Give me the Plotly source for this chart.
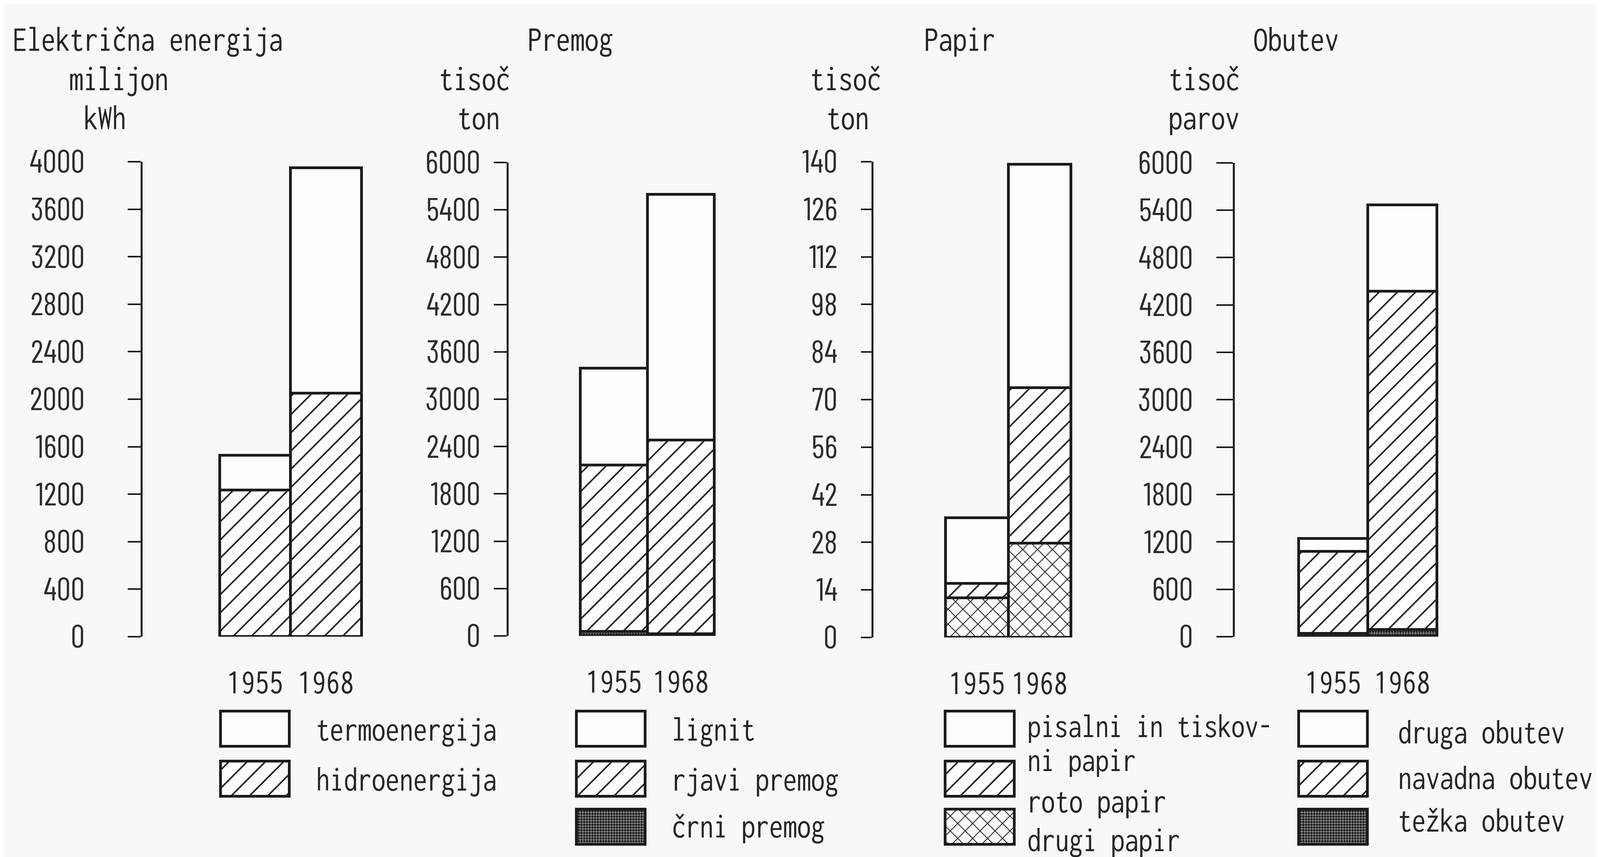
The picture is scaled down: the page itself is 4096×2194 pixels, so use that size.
import plotly.graph_objects as go

# ---------------- data ----------------
years = ["1955", "1968"]

el_hidro = [1236, 2051]
el_termo = [291, 1897]

pr_crni = [55, 30]
pr_rjavi = [2110, 2455]
pr_lignit = [1227, 3112]

pa_drugi = [11.6, 27.7]
pa_roto = [4.3, 45.8]
pa_pisalni = [19.3, 65.8]

ob_tezka = [43, 90]
ob_navadna = [1037, 4283]
ob_druga = [166, 1093]

el_ticks = [0, 400, 800, 1200, 1600, 2000, 2400, 2800, 3200, 3600, 4000]
pr_ticks = [0, 600, 1200, 1800, 2400, 3000, 3600, 4200, 4800, 5400, 6000]
pa_ticks = [0, 14, 28, 42, 56, 70, 84, 98, 112, 126, 140]
ob_ticks = [0, 600, 1200, 1800, 2400, 3000, 3600, 4200, 4800, 5400, 6000]

# ---------------- geometry / style ----------------
W, H = 4096, 2194
S = 0.956                    # output px per reference px
BODY = 8                     # default page margin of the html body


def fx(x):
    return (x * S - BODY) / W


def fy(y):
    return 1 - (y * S - BODY) / H


NUM_FONT = "Barlow Condensed, Roboto Condensed, Liberation Sans, sans-serif"
TXT_FONT = "Inconsolata Condensed, Barlow Condensed, Liberation Sans, sans-serif"
NUM_FS = 81
TITLE_FS = 91
TXT_FS = 89
YEAR_FS = 90
INK = "#1b1b1b"
TXT = "#262626"
BG = "#f8f8f8"
FILL = "#fdfdfd"
OUT_W = 7

PAT = {
    "blank": dict(shape=""),
    "hatch": dict(shape="/", size=33, solidity=0.12, fgcolor=INK, bgcolor=FILL, fillmode="replace"),
    "cross": dict(shape="x", size=27, solidity=0.15, fgcolor=INK, bgcolor=FILL, fillmode="replace"),
    "stipple": dict(shape=".", size=7, solidity=0.55, fgcolor="#1e1e1e", bgcolor="#8e8e8e", fillmode="replace"),
}

panels = [
    dict(axis_x=382, bar_l=588, bar_r=968, top=433, bot=1705, rng=4000, ticks=el_ticks,
         standoff=94, ticklen=33,
         segs=[(el_hidro, "hatch"), (el_termo, "blank")]),
    dict(axis_x=1362, bar_l=1554, bar_r=1913, top=435, bot=1703, rng=6000, ticks=pr_ticks,
         standoff=18, ticklen=33,
         segs=[(pr_crni, "stipple"), (pr_rjavi, "hatch"), (pr_lignit, "blank")]),
    dict(axis_x=2339, bar_l=2532, bar_r=2868, top=433, bot=1707, rng=140, ticks=pa_ticks,
         standoff=44, ticklen=27,
         segs=[(pa_drugi, "cross"), (pa_roto, "hatch"), (pa_pisalni, "blank")]),
    dict(axis_x=3307, bar_l=3477, bar_r=3848, top=436, bot=1705, rng=6000, ticks=ob_ticks,
         standoff=44, ticklen=42,
         segs=[(ob_tezka, "stipple"), (ob_navadna, "hatch"), (ob_druga, "blank")]),
]

fig = go.Figure()
layout = dict(
    width=W, height=H, margin=dict(l=0, r=0, t=0, b=0, pad=0, autoexpand=False),
    paper_bgcolor=BG, plot_bgcolor="rgba(0,0,0,0)",
    barmode="stack", showlegend=False,
    font=dict(family=NUM_FONT, size=NUM_FS, color=TXT),
)

for i, p in enumerate(panels, start=1):
    xa, ya = f"x{i}", f"y{i}"
    barw = (p["bar_r"] - p["bar_l"]) / 2.0
    gap = (p["bar_l"] - p["axis_x"]) / barw
    ext = 0.04
    for vals, pat in p["segs"]:
        fig.add_trace(go.Bar(
            x=[0, 1], y=vals, width=1, xaxis=xa, yaxis=ya,
            marker=dict(color=FILL, line=dict(color=INK, width=OUT_W), pattern=PAT[pat]),
            hoverinfo="skip",
        ))
    layout[f"xaxis{i}"] = dict(
        domain=[fx(p["axis_x"]), fx(p["bar_r"] + ext * barw)],
        range=[-0.5 - gap, 1.5 + ext], anchor=ya, automargin=False,
        tickvals=[0, 1], ticktext=years, ticks="", showline=False, tickangle=0,
        showgrid=False, zeroline=False, fixedrange=True,
        tickfont=dict(family=TXT_FONT, size=YEAR_FS, color=TXT), ticklabelstandoff=54,
    )
    layout[f"yaxis{i}"] = dict(
        domain=[fy(p["bot"]), fy(p["top"])], range=[0, p["rng"]], anchor=xa, automargin=False,
        tickvals=p["ticks"], ticks="outside", ticklen=p["ticklen"], tickwidth=4,
        tickcolor=INK, showline=True, linewidth=5, linecolor=INK,
        showgrid=False, zeroline=False, fixedrange=True,
        tickfont=dict(family=NUM_FONT, size=NUM_FS, color="#2c2c2c"),
        ticklabelstandoff=p["standoff"],
    )

# ---------------- legend swatches (bars on an overlay axis in reference px) ----------------
col_x = [590, 1543, 2531, 3477]
row_y = [1951, 2085, 2214]
box_w, box_h = 185, 94
legend_rows = [
    ("blank", 0, [0, 1, 2, 3]),
    ("hatch", 1, [0, 1, 2, 3]),
    ("stipple", 2, [1, 3]),
    ("cross", 2, [2]),
]
for pat, r, cols in legend_rows:
    fig.add_trace(go.Bar(
        orientation="h", y=[row_y[r]] * len(cols), x=[box_w] * len(cols),
        base=[col_x[c] for c in cols], width=box_h, xaxis="x5", yaxis="y5",
        marker=dict(color=FILL, line=dict(color=INK, width=OUT_W), pattern=PAT[pat]),
        hoverinfo="skip",
    ))
x0_ref = BODY / S
layout["xaxis5"] = dict(domain=[0, 1], range=[x0_ref, x0_ref + W / S], visible=False,
                        fixedrange=True, anchor="y5", automargin=False)
layout["yaxis5"] = dict(domain=[0, 1], range=[x0_ref + H / S, x0_ref], visible=False,
                        fixedrange=True, anchor="x5", automargin=False)

# ---------------- texts ----------------
ann = []


def txt(s, x, y, anchor="left", size=TXT_FS):
    ann.append(dict(text=s, x=fx(x), y=fy(y), xref="paper", yref="paper",
                    xanchor=anchor, yanchor="middle", showarrow=False,
                    font=dict(family=TXT_FONT, size=size, color=TXT)))


# panel titles
txt("Električna energija", 32, 104, size=TITLE_FS)
txt("Premog", 1411, 104, size=TITLE_FS)
txt("Papir", 2473, 104, size=TITLE_FS)
txt("Obutev", 3355, 104, size=TITLE_FS)
# units
txt("milijon", 319, 210, "center", TITLE_FS)
txt("kWh", 281, 314, "center", TITLE_FS)
txt("tisoč", 1271, 210, "center", TITLE_FS)
txt("ton", 1282, 314, "center", TITLE_FS)
txt("tisoč", 2265, 210, "center", TITLE_FS)
txt("ton", 2270, 314, "center", TITLE_FS)
txt("tisoč", 3225, 210, "center", TITLE_FS)
txt("parov", 3224, 314, "center", TITLE_FS)
# legend labels
txt("termoenergija", 844, 1952)
txt("hidroenergija", 844, 2086)
txt("lignit", 1797, 1952)
txt("rjavi premog", 1797, 2086)
txt("črni premog", 1797, 2212)
txt("pisalni in tiskov-", 2749, 1944, size=TXT_FS - 2)
txt("ni papir", 2749, 2034, size=TXT_FS - 2)
txt("roto papir", 2749, 2145)
txt("drugi papir", 2749, 2248)
txt("druga obutev", 3742, 1960)
txt("navadna obutev", 3742, 2082)
txt("težka obutev", 3742, 2196)

layout["annotations"] = ann
fig.update_layout(**layout)
fig.write_html("out.html")
